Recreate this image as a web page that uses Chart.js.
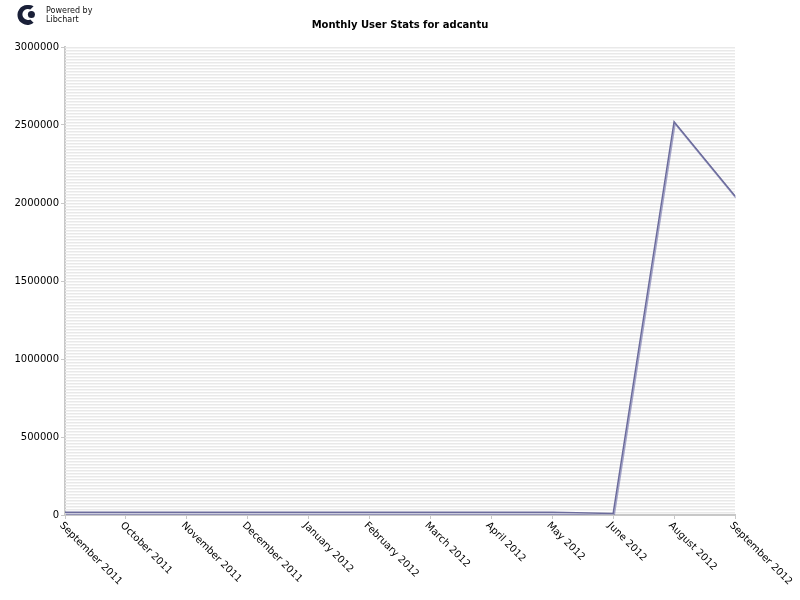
<!DOCTYPE html>
<html lang="en">
<head>
    <meta charset="UTF-8">
    <title>Monthly User Stats for adcantu</title>
    <style>
        body { margin: 0; background-color: white; font-family: "DejaVu Sans", sans-serif; }
        .wrap { position: relative; width: 800px; height: 600px; }
        .logo { position: absolute; left: 16px; top: 4px; }
        .powered { position: absolute; left: 46px; top: 6px; font-size: 8px; line-height: 9px; color: #111; }
        .title { position: absolute; left: 0; top: 19px; width: 800px; text-align: center; font-size: 10px; font-weight: bold; }
    </style>
    <script src="https://cdn.jsdelivr.net/npm/chart.js"></script>
</head>
<body>
<div class="wrap">
    <canvas id="statsChart" width="800" height="600"></canvas>
    <svg class="logo" width="22" height="22" viewBox="0 0 20 20">
        <path d="M10 1 A9 9 0 1 0 16 17 L13 14 A5 5 0 1 1 13 5 L16 2 A9 9 0 0 0 10 1 Z" fill="#1a2038"/>
        <circle cx="14" cy="9.5" r="3.2" fill="#1a2038"/>
    </svg>
    <div class="powered">Powered by<br>Libchart</div>
    <div class="title">Monthly User Stats for adcantu</div>
</div>

<script>
    const months = ['September 2011', 'October 2011', 'November 2011', 'December 2011',
        'January 2012', 'February 2012', 'March 2012', 'April 2012', 'May 2012',
        'June 2012', 'August 2012', 'September 2012'];
    const users = [18000, 18000, 18000, 18000, 18000, 18000, 18000, 18000, 18000, 10000, 2521000, 2045000];
    const yTicks = [0, 500000, 1000000, 1500000, 2000000, 2500000, 3000000];

    // libchart style striped background
    const stripes = {
        id: 'stripes',
        beforeDatasetsDraw(chart) {
            const { ctx, chartArea: a } = chart;
            ctx.save();
            ctx.fillStyle = '#e9e9e9';
            for (let y = a.top; y < a.bottom; y += 3) {
                ctx.fillRect(a.left, y, a.right - a.left, 1.5);
            }
            ctx.restore();
        }
    };

    // soft shadow under the line, like libchart
    const lineShadow = {
        id: 'lineShadow',
        beforeDatasetDraw(chart) {
            const ctx = chart.ctx;
            ctx.save();
            ctx.shadowColor = 'rgba(110, 110, 170, 0.6)';
            ctx.shadowOffsetX = 1;
            ctx.shadowOffsetY = 2;
            ctx.shadowBlur = 0;
        },
        afterDatasetDraw(chart) {
            chart.ctx.restore();
        }
    };

    // x labels slanted down to the right, starting at the tick
    const slantLabels = {
        id: 'slantLabels',
        afterDraw(chart) {
            const { ctx } = chart;
            const x = chart.scales.x;
            ctx.save();
            ctx.font = '10px "DejaVu Sans"';
            ctx.fillStyle = '#000';
            ctx.textAlign = 'left';
            ctx.textBaseline = 'middle';
            months.forEach((m, i) => {
                ctx.save();
                ctx.translate(x.getPixelForTick(i) - 4, x.top + 9);
                ctx.rotate(Math.PI / 4);
                ctx.fillText(m, 0, 0);
                ctx.restore();
            });
            ctx.restore();
        }
    };

    new Chart(document.getElementById('statsChart'), {
        type: 'line',
        data: {
            labels: months,
            datasets: [{
                data: users,
                borderColor: '#6c6c9c',
                borderWidth: 1.5,
                pointRadius: 0,
                tension: 0,
                fill: false
            }]
        },
        options: {
            responsive: false,
            animation: false,
            layout: { padding: { left: 0, right: 65, top: 47, bottom: 0 } },
            plugins: { legend: { display: false }, tooltip: { enabled: false } },
            scales: {
                x: {
                    offset: false,
                    afterFit: s => { s.height = 85; },
                    border: { color: '#c8c8c8', width: 2 },
                    grid: { drawOnChartArea: false, color: '#c8c8c8', tickLength: 4 },
                    ticks: { display: false }
                },
                y: {
                    min: 0,
                    max: 3000000,
                    afterFit: s => { s.width = 65; },
                    afterBuildTicks: s => { s.ticks = yTicks.map(v => ({ value: v })); },
                    border: { color: '#c8c8c8', width: 2 },
                    grid: { drawOnChartArea: false, color: '#c8c8c8', tickLength: 4 },
                    ticks: {
                        color: '#000',
                        padding: 2,
                        font: { family: 'DejaVu Sans', size: 10 },
                        callback: v => String(v)
                    }
                }
            }
        },
        plugins: [stripes, lineShadow, slantLabels]
    });
</script>
</body>
</html>
